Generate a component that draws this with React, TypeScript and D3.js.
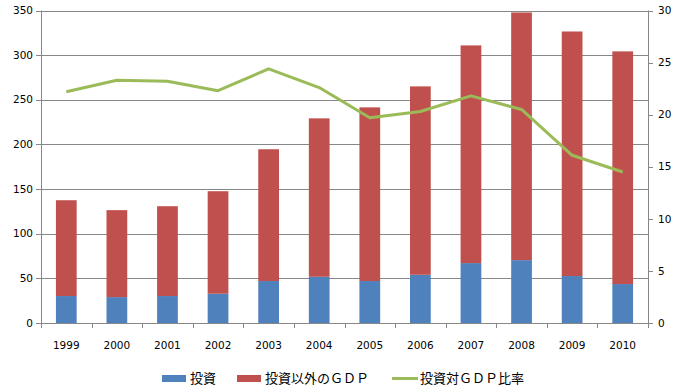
import React from 'react'
import * as d3 from 'd3'

const years = ['1999', '2000', '2001', '2002', '2003', '2004', '2005', '2006', '2007', '2008', '2009', '2010']
const investment = [30.2, 29, 30.2, 32.8, 47, 51.8, 47, 54, 67.1, 70.4, 52.6, 43.6]
const otherGdp = [107.3, 97.4, 100.6, 114.8, 147.6, 177.4, 194.5, 211, 243.8, 277.4, 273.9, 260.6]
const ratio = [22.2, 23.3, 23.2, 22.3, 24.4, 22.6, 19.7, 20.3, 21.8, 20.5, 16.1, 14.5]
const leftTicks = [0, 50, 100, 150, 200, 250, 300, 350]
const rightTicks = [0, 5, 10, 15, 20, 25, 30]

const W = 683
const H = 391
const margin = { top: 10.5, right: 35, bottom: 68, left: 41 }

const BLUE = '#4F81BD'
const RED = '#C0504D'
const GREEN = '#9BBB59'
const GRID = '#878787'
const numFont = '"DejaVu Sans", Verdana, sans-serif'
const jpFont = '"Noto Sans CJK JP", sans-serif'

export default function App() {
  const innerBottom = H - margin.bottom
  const x = d3.scaleBand()
    .domain(years)
    .range([margin.left, W - margin.right])
    .paddingInner(0.59)
    .paddingOuter(0.295)
  const y = d3.scaleLinear().domain([0, 350]).range([innerBottom, margin.top])
  const y2 = d3.scaleLinear().domain([0, 30]).range([innerBottom, margin.top])

  const step = x.step()
  const x0 = margin.left
  const x1 = W - margin.right

  const line = d3.line<number>()
    .x((_, i) => (x(years[i]) as number) + x.bandwidth() / 2)
    .y(d => y2(d))

  const legend = [
    { label: '投資', color: BLUE, type: 'rect', x: 162 },
    { label: '投資以外のＧＤＰ', color: RED, type: 'rect', x: 237 },
    { label: '投資対ＧＤＰ比率', color: GREEN, type: 'line', x: 392 },
  ]

  return (
    <svg width={W} height={H} style={{ position: 'absolute', left: 0, top: 0 }}>
      <rect width={W} height={H} fill="#fff" />
      {/* grid */}
      {leftTicks.map(t => (
        <line key={'g' + t} x1={x0} x2={x1} y1={Math.round(y(t)) + 0.5} y2={Math.round(y(t)) + 0.5} stroke={GRID} strokeWidth={1} />
      ))}
      {/* left axis */}
      <line x1={x0 + 0.5} x2={x0 + 0.5} y1={margin.top} y2={innerBottom} stroke={GRID} />
      {leftTicks.map(t => (
        <g key={'l' + t}>
          <line x1={x0 - 5} x2={x0} y1={Math.round(y(t)) + 0.5} y2={Math.round(y(t)) + 0.5} stroke={GRID} />
          <text x={33} y={y(t)} dy="0.35em" textAnchor="end" fontFamily={numFont} fontSize={10.5} fill="#000">{t}</text>
        </g>
      ))}
      {/* right axis */}
      <line x1={x1 + 0.5} x2={x1 + 0.5} y1={margin.top} y2={innerBottom} stroke={GRID} />
      {rightTicks.map(t => (
        <g key={'r' + t}>
          <line x1={x1} x2={x1 + 5} y1={Math.round(y2(t)) + 0.5} y2={Math.round(y2(t)) + 0.5} stroke={GRID} />
          <text x={658} y={y2(t)} dy="0.35em" textAnchor="start" fontFamily={numFont} fontSize={10.5} fill="#000">{t}</text>
        </g>
      ))}
      {/* bars */}
      {years.map((yr, i) => (
        <g key={yr}>
          <rect x={x(yr)} width={x.bandwidth()} y={y(investment[i])} height={y(0) - y(investment[i])} fill={BLUE} />
          <rect x={x(yr)} width={x.bandwidth()} y={y(investment[i] + otherGdp[i])} height={y(investment[i]) - y(investment[i] + otherGdp[i])} fill={RED} />
        </g>
      ))}
      {/* x axis */}
      <line x1={x0} x2={x1} y1={innerBottom + 0.5} y2={innerBottom + 0.5} stroke={GRID} />
      {d3.range(years.length + 1).map(i => (
        <line key={'xt' + i} x1={Math.round(x0 + i * step) + 0.5} x2={Math.round(x0 + i * step) + 0.5} y1={innerBottom} y2={innerBottom + 5} stroke={GRID} />
      ))}
      {years.map(yr => (
        <text key={'xl' + yr} x={(x(yr) as number) + x.bandwidth() / 2} y={345} dy="0.35em" textAnchor="middle" fontFamily={numFont} fontSize={10.5} fill="#000">{yr}</text>
      ))}
      {/* ratio line */}
      <path d={line(ratio) || ''} fill="none" stroke={GREEN} strokeWidth={3} strokeLinejoin="round" />
      {/* legend */}
      {legend.map(l => (
        <g key={l.label}>
          {l.type === 'rect'
            ? <rect x={l.x} y={375} width={24} height={7} fill={l.color} />
            : <line x1={l.x} x2={l.x + 26} y1={378.5} y2={378.5} stroke={l.color} strokeWidth={3} />}
          <text x={l.x + 28} y={378.5} dy="0.35em" fontFamily={jpFont} fontSize={13} fill="#000">{l.label}</text>
        </g>
      ))}
    </svg>
  )
}
